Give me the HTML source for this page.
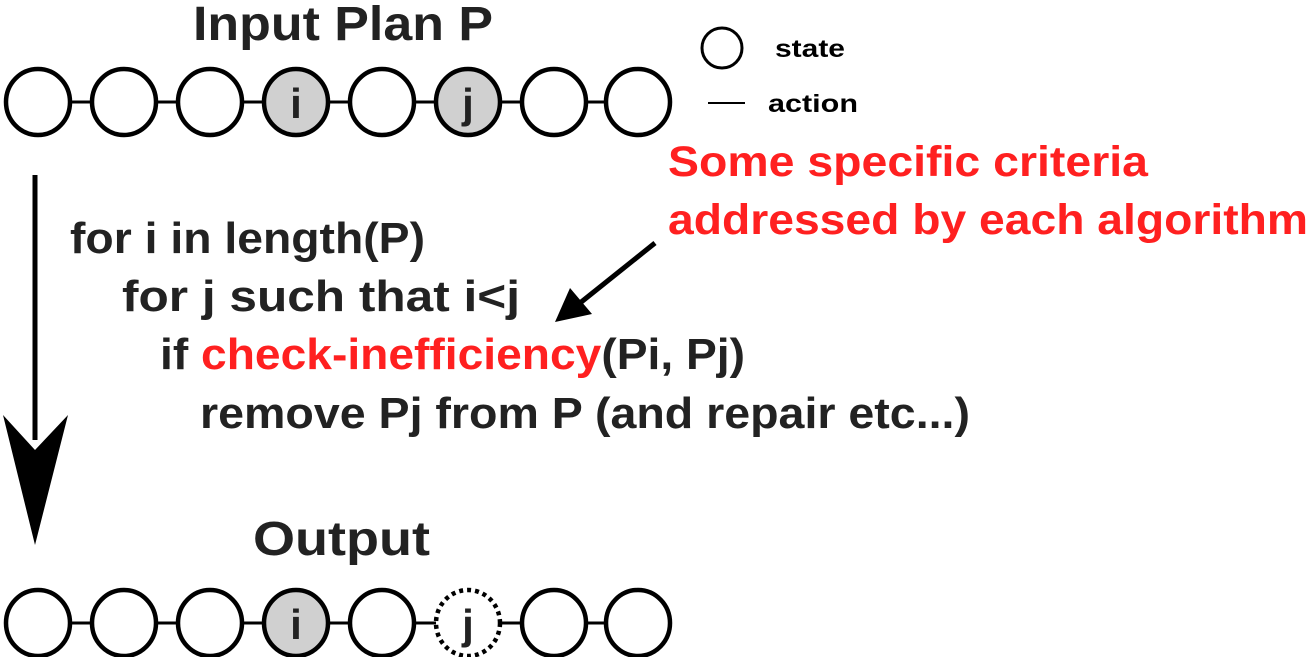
<!DOCTYPE html>
<html><head><style>
body{margin:0;width:1310px;height:657px;background:#fff;overflow:hidden}
svg text{font-family:"Liberation Sans",sans-serif;font-weight:bold}
</style></head><body>
<svg width="1310" height="657" viewBox="0 0 1310 657" xmlns="http://www.w3.org/2000/svg">
<text x="193" y="40" font-size="48" fill="#222" textLength="300" lengthAdjust="spacingAndGlyphs">Input Plan P</text>
<g stroke="#000" stroke-width="3">
<line x1="38" y1="102" x2="638" y2="102"/>
<line x1="38" y1="623" x2="638" y2="623"/>
</g>
<g stroke="#000" stroke-width="4.5" fill="#fff">
<ellipse cx="38" cy="102" rx="32" ry="33"/>
<ellipse cx="124" cy="102" rx="32" ry="33"/>
<ellipse cx="210" cy="102" rx="32" ry="33"/>
<ellipse cx="296" cy="102" rx="32" ry="33" fill="#d0d0d0"/>
<ellipse cx="382" cy="102" rx="32" ry="33"/>
<ellipse cx="468" cy="102" rx="32" ry="33" fill="#d0d0d0"/>
<ellipse cx="554" cy="102" rx="32" ry="33"/>
<ellipse cx="638" cy="102" rx="32" ry="33"/>
<ellipse cx="38" cy="623" rx="32" ry="33"/>
<ellipse cx="124" cy="623" rx="32" ry="33"/>
<ellipse cx="210" cy="623" rx="32" ry="33"/>
<ellipse cx="296" cy="623" rx="32" ry="33" fill="#d0d0d0"/>
<ellipse cx="382" cy="623" rx="32" ry="33"/>
<ellipse cx="468" cy="623" rx="32" ry="33" stroke-dasharray="4 4"/>
<ellipse cx="554" cy="623" rx="32" ry="33"/>
<ellipse cx="638" cy="623" rx="32" ry="33"/>
<circle cx="722" cy="48" r="20" stroke-width="3"/>
</g>
<line x1="708" y1="103" x2="745" y2="103" stroke="#000" stroke-width="2"/>
<g font-size="42" fill="#222" text-anchor="middle">
<text x="296" y="118">i</text><text x="468" y="118">j</text>
<text x="296" y="639">i</text><text x="468" y="639">j</text>
</g>
<text x="775" y="57" font-size="25" fill="#000" textLength="70" lengthAdjust="spacingAndGlyphs">state</text>
<text x="768" y="112" font-size="25" fill="#000" textLength="90" lengthAdjust="spacingAndGlyphs">action</text>
<line x1="35" y1="175" x2="35" y2="440" stroke="#000" stroke-width="5"/>
<polygon points="35,545 3,415 35,450 68,415" fill="#000"/>
<text x="253" y="555" font-size="48" fill="#222" textLength="177" lengthAdjust="spacingAndGlyphs">Output</text>
<g font-size="44" fill="#222">
<text x="70" y="253" textLength="355" lengthAdjust="spacingAndGlyphs">for i in length(P)</text>
<text x="122" y="311" textLength="398" lengthAdjust="spacingAndGlyphs">for j such that i&lt;j</text>
<text x="160" y="369" textLength="585" lengthAdjust="spacingAndGlyphs">if <tspan fill="#ff2020">check-inefficiency</tspan>(Pi, Pj)</text>
<text x="200" y="428" textLength="770" lengthAdjust="spacingAndGlyphs">remove Pj from P (and repair etc...)</text>
</g>
<g font-size="43" fill="#ff2020">
<text x="668" y="176" textLength="480" lengthAdjust="spacingAndGlyphs">Some specific criteria</text>
<text x="668" y="234" textLength="640" lengthAdjust="spacingAndGlyphs">addressed by each algorithm</text>
</g>
<line x1="655" y1="243" x2="580" y2="303" stroke="#000" stroke-width="5"/>
<polygon points="555,322 570,288 592,314" fill="#000"/>
</svg>
</body></html>
